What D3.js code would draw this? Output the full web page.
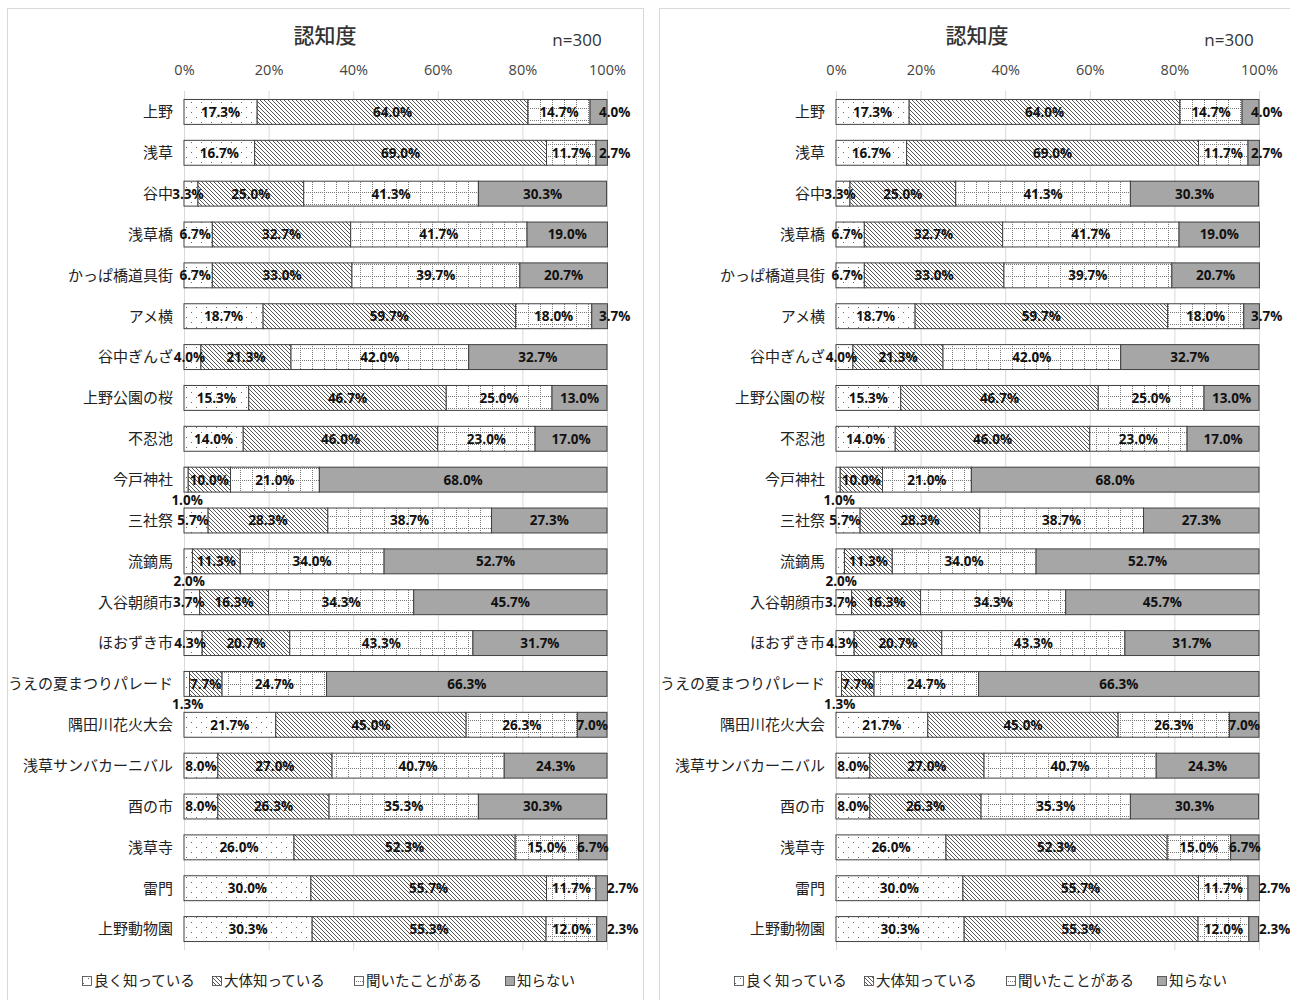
<!DOCTYPE html>
<html><head><meta charset="utf-8">
<script src="https://cdn.jsdelivr.net/npm/d3@7"></script>
<style>
html,body{margin:0;padding:0;background:#fff;}
svg{display:block;}
</style></head>
<body>
<svg id="chart" width="1290" height="1000"></svg>
<script>
const categories = ["上野","浅草","谷中","浅草橋","かっぱ橋道具街","アメ横","谷中ぎんざ","上野公園の桜","不忍池","今戸神社","三社祭","流鏑馬","入谷朝顔市","ほおずき市","うえの夏まつりパレード","隅田川花火大会","浅草サンバカーニバル","酉の市","浅草寺","雷門","上野動物園"];
const wellKnown   = [17.3,16.7, 3.3, 6.7, 6.7,18.7, 4.0,15.3,14.0, 1.0, 5.7, 2.0, 3.7, 4.3, 1.3,21.7, 8.0, 8.0,26.0,30.0,30.3];
const mostlyKnown = [64.0,69.0,25.0,32.7,33.0,59.7,21.3,46.7,46.0,10.0,28.3,11.3,16.3,20.7, 7.7,45.0,27.0,26.3,52.3,55.7,55.3];
const heardOf     = [14.7,11.7,41.3,41.7,39.7,18.0,42.0,25.0,23.0,21.0,38.7,34.0,34.3,43.3,24.7,26.3,40.7,35.3,15.0,11.7,12.0];
const unknown     = [ 4.0, 2.7,30.3,19.0,20.7, 3.7,32.7,13.0,17.0,68.0,27.3,52.7,45.7,31.7,66.3, 7.0,24.3,30.3, 6.7, 2.7, 2.3];
const seriesNames = ["良く知っている","大体知っている","聞いたことがある","知らない"];
const tickValues  = [0,20,40,60,80,100];
const chartTitle  = "認知度";
const sampleNote  = "n=300";

const seriesData = [wellKnown, mostlyKnown, heardOf, unknown];
const svg = d3.select("#chart");
const defs = svg.append("defs");

function makePatterns(){
  const p0 = defs.append("pattern").attr("id","pDots").attr("patternUnits","userSpaceOnUse")
    .attr("width",10).attr("height",10);
  p0.append("rect").attr("width",10).attr("height",10).attr("fill","#fff");
  p0.append("rect").attr("x",1).attr("y",2).attr("width",1).attr("height",1).attr("fill","#666");
  p0.append("rect").attr("x",6).attr("y",7).attr("width",1).attr("height",1).attr("fill","#666");
  const p1 = defs.append("pattern").attr("id","pHatch").attr("patternUnits","userSpaceOnUse")
    .attr("width",4).attr("height",4);
  p1.append("rect").attr("width",4).attr("height",4).attr("fill","#fff");
  p1.append("path").attr("d","M-1,-1 L5,5 M3,-1 L5,1 M-1,3 L1,5").attr("stroke","#555").attr("stroke-width",1);
  const p2 = defs.append("pattern").attr("id","pGrid").attr("patternUnits","userSpaceOnUse")
    .attr("width",12).attr("height",12);
  p2.append("rect").attr("width",12).attr("height",12).attr("fill","#fff");
  for(let i=0;i<12;i+=2){
    p2.append("rect").attr("x",i).attr("y",0).attr("width",1).attr("height",1).attr("fill","#777");
    if(i>0) p2.append("rect").attr("x",0).attr("y",i).attr("width",1).attr("height",1).attr("fill","#777");
  }
}
makePatterns();
const fills = ["url(#pDots)","url(#pHatch)","url(#pGrid)","#a6a6a6"];

function drawPanel(ox){
  const g = svg.append("g").attr("transform",`translate(${ox},0)`);
  g.append("rect").attr("x",7.5).attr("y",8.5).attr("width",636).attr("height",1000)
    .attr("fill","#fff").attr("stroke","#d9d9d9");

  const x = d3.scaleLinear().domain([0,100]).range([184,607]);
  const y = d3.scaleBand().domain(categories).range([91.5,949.5]).paddingInner(0.39).paddingOuter(0.195);

  g.append("text").attr("x",325).attr("y",43).attr("text-anchor","middle")
    .attr("font-family","'Noto Sans CJK JP'").attr("font-size",21).attr("font-weight",500)
    .attr("fill","#333").text(chartTitle);
  g.append("text").attr("x",577).attr("y",46).attr("text-anchor","middle")
    .attr("font-family","'Open Sans'").attr("font-size",17)
    .attr("fill","#333").text(sampleNote);

  g.append("g").selectAll("line").data(tickValues).join("line")
    .attr("x1",d=>x(d)+0.5).attr("x2",d=>x(d)+0.5).attr("y1",91).attr("y2",950)
    .attr("stroke","#d9d9d9").attr("stroke-width",1);

  const ax = g.append("g").attr("transform","translate(0,77)")
    .call(d3.axisTop(x).tickValues(tickValues).tickFormat(d=>d+"%").tickSize(0).tickPadding(0));
  ax.select(".domain").remove();
  ax.selectAll("text").attr("font-family","'Open Sans'").attr("font-size",14.5).attr("fill","#444").attr("dy","-2");

  const stack = categories.map((c,i)=>{
    let acc=0;
    return seriesData.map((s,k)=>{ const v=s[i]; const r={cat:c,k,v,x0:acc,x1:acc+v}; acc+=v; return r;});
  });
  const rows = g.append("g").selectAll("g").data(stack).join("g");
  rows.selectAll("rect").data(d=>d).join("rect")
    .attr("x",d=>x(d.x0)).attr("width",d=>Math.max(0,x(d.x1)-x(d.x0)))
    .attr("y",d=>y(d.cat)).attr("height",y.bandwidth())
    .attr("fill",d=>fills[d.k]).attr("stroke","#404040").attr("stroke-width",1);

  const bw = y.bandwidth();
  const pushRight = new Set(["雷門","上野動物園"]);
  rows.selectAll("text").data(d=>d).join("text")
    .attr("font-family","'Open Sans'").attr("font-weight",700).attr("font-size",13.5)
    .attr("fill","#111")
    .each(function(d){
      const t = d3.select(this);
      let cx = (x(d.x0)+x(d.x1))/2, cy = y(d.cat)+bw/2, anchor="middle";
      if(d.k===0 && d.v<3){ cy += 20; cx += 1; }
      else if(d.k===3 && d.v<5){ anchor="start"; cx = x(100) - (pushRight.has(d.cat)?0:8); }
      else if(d.k===0 && d.v<7){ cx -= 3; }
      t.attr("x",cx).attr("y",cy).attr("dy","0.36em").attr("text-anchor",anchor).text(d.v.toFixed(1)+"%");
    });

  g.append("g").selectAll("text").data(categories).join("text")
    .attr("x",173).attr("y",d=>y(d)+bw/2).attr("dy","0.36em").attr("text-anchor","end")
    .attr("font-family","'Noto Sans CJK JP'").attr("font-size",15).attr("fill","#222").text(d=>d);

  const legX = [82,212,354,505];
  const lg = g.append("g").selectAll("g").data(seriesNames).join("g")
    .attr("transform",(d,i)=>`translate(${legX[i]},981)`);
  lg.append("rect").attr("x",0.5).attr("y",-4.5).attr("width",9).attr("height",9)
    .attr("fill",(d,i)=>fills[i]).attr("stroke","#404040").attr("stroke-width",0.8);
  lg.append("text").attr("x",12).attr("y",0).attr("dy","0.36em")
    .attr("font-family","'Noto Sans CJK JP'").attr("font-size",14.5).attr("fill","#222").text(d=>d);
}
drawPanel(0);
drawPanel(652);
</script>
</body></html>
